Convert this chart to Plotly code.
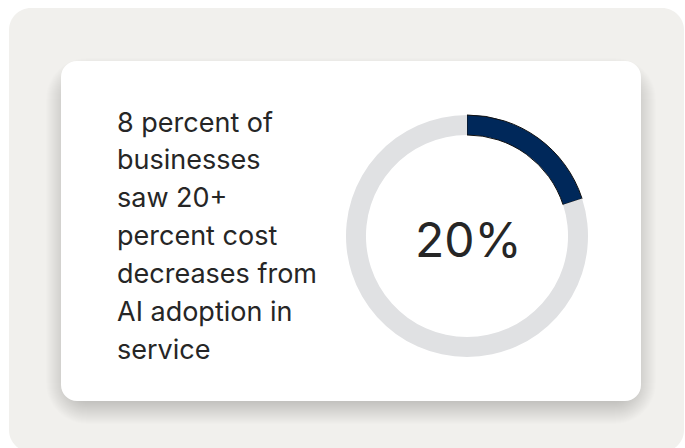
import plotly.graph_objects as go

# ---- data ----
share_labels = ["Cost decrease 20+ percent", "Other"]
share_values = [20, 80]
center_label = "20%"
caption_lines = [
    "8 percent of",
    "businesses",
    "saw 20+",
    "percent cost",
    "decreases from",
    "AI adoption in",
    "service",
]

W, H = 685, 448
NAVY = "#00285a"
RING = "#e0e1e3"
TEXT = "#262626"
FONT = "Inter"


def rrect(x0, y0, x1, y1, r):
    k = 0.5523 * r
    return (
        f"M{x0+r},{y0} L{x1-r},{y0} C{x1-r+k},{y0} {x1},{y0+r-k} {x1},{y0+r} "
        f"L{x1},{y1-r} C{x1},{y1-r+k} {x1-r+k},{y1} {x1-r},{y1} "
        f"L{x0+r},{y1} C{x0+r-k},{y1} {x0},{y1-r+k} {x0},{y1-r} "
        f"L{x0},{y0+r} C{x0},{y0+r-k} {x0+r-k},{y0} {x0+r},{y0} Z"
    )


shapes = []
# outer panel
shapes.append(dict(type="path", xref="x", yref="y", path=rrect(9, 8, 684, 452, 22),
                   fillcolor="#f1f0ed", line=dict(width=0), layer="below"))
# card shadow (soft, layered, mostly below)
card = (61, 61, 641, 401)
n = 24
for i in range(n):
    s = i * 1.0
    shapes.append(dict(type="path", xref="x", yref="y",
                       path=rrect(card[0] + 8 - s, card[1] + 20 - s, card[2] - 8 + s, card[3] + s, 18 + s),
                       fillcolor="rgba(30,28,20,0.0085)", line=dict(width=0), layer="below"))
# card
shapes.append(dict(type="path", xref="x", yref="y", path=rrect(*card, 16),
                   fillcolor="#ffffff", line=dict(width=0), layer="below"))

cx, cy, R = 467, 236, 121
fig = go.Figure()
fig.add_trace(go.Scatter(x=[], y=[], showlegend=False, hoverinfo="skip"))
fig.add_trace(go.Pie(
    labels=share_labels, values=share_values, hole=0.835, sort=False,
    direction="clockwise", rotation=0, textinfo="none", hoverinfo="label+percent",
    marker=dict(colors=[NAVY, RING], line=dict(color=["#111111", "rgba(0,0,0,0)"], width=[1, 0])),
    domain=dict(x=[(cx - R) / W, (cx + R) / W], y=[(H - cy - R) / H, (H - cy + R) / H]),
    showlegend=False,
))

annotations = [dict(x=cx + 1, y=cy + 3, xref="x", yref="y", text=center_label, showarrow=False,
                    font=dict(family=FONT, size=48, color=TEXT), xanchor="center", yanchor="middle")]
for i, line in enumerate(caption_lines):
    annotations.append(dict(x=116, y=122 + 37.9 * i, xref="x", yref="y", text=line, showarrow=False,
                            font=dict(family=FONT, size=27, color=TEXT), xanchor="left", yanchor="middle",
                            borderpad=0))

fig.update_layout(
    width=W, height=H, margin=dict(l=0, r=0, t=0, b=0),
    paper_bgcolor="#ffffff", plot_bgcolor="rgba(0,0,0,0)",
    xaxis=dict(range=[0, W], visible=False, fixedrange=True),
    yaxis=dict(range=[H, 0], visible=False, fixedrange=True),
    shapes=shapes, annotations=annotations,
)
fig.write_html("out.html")
